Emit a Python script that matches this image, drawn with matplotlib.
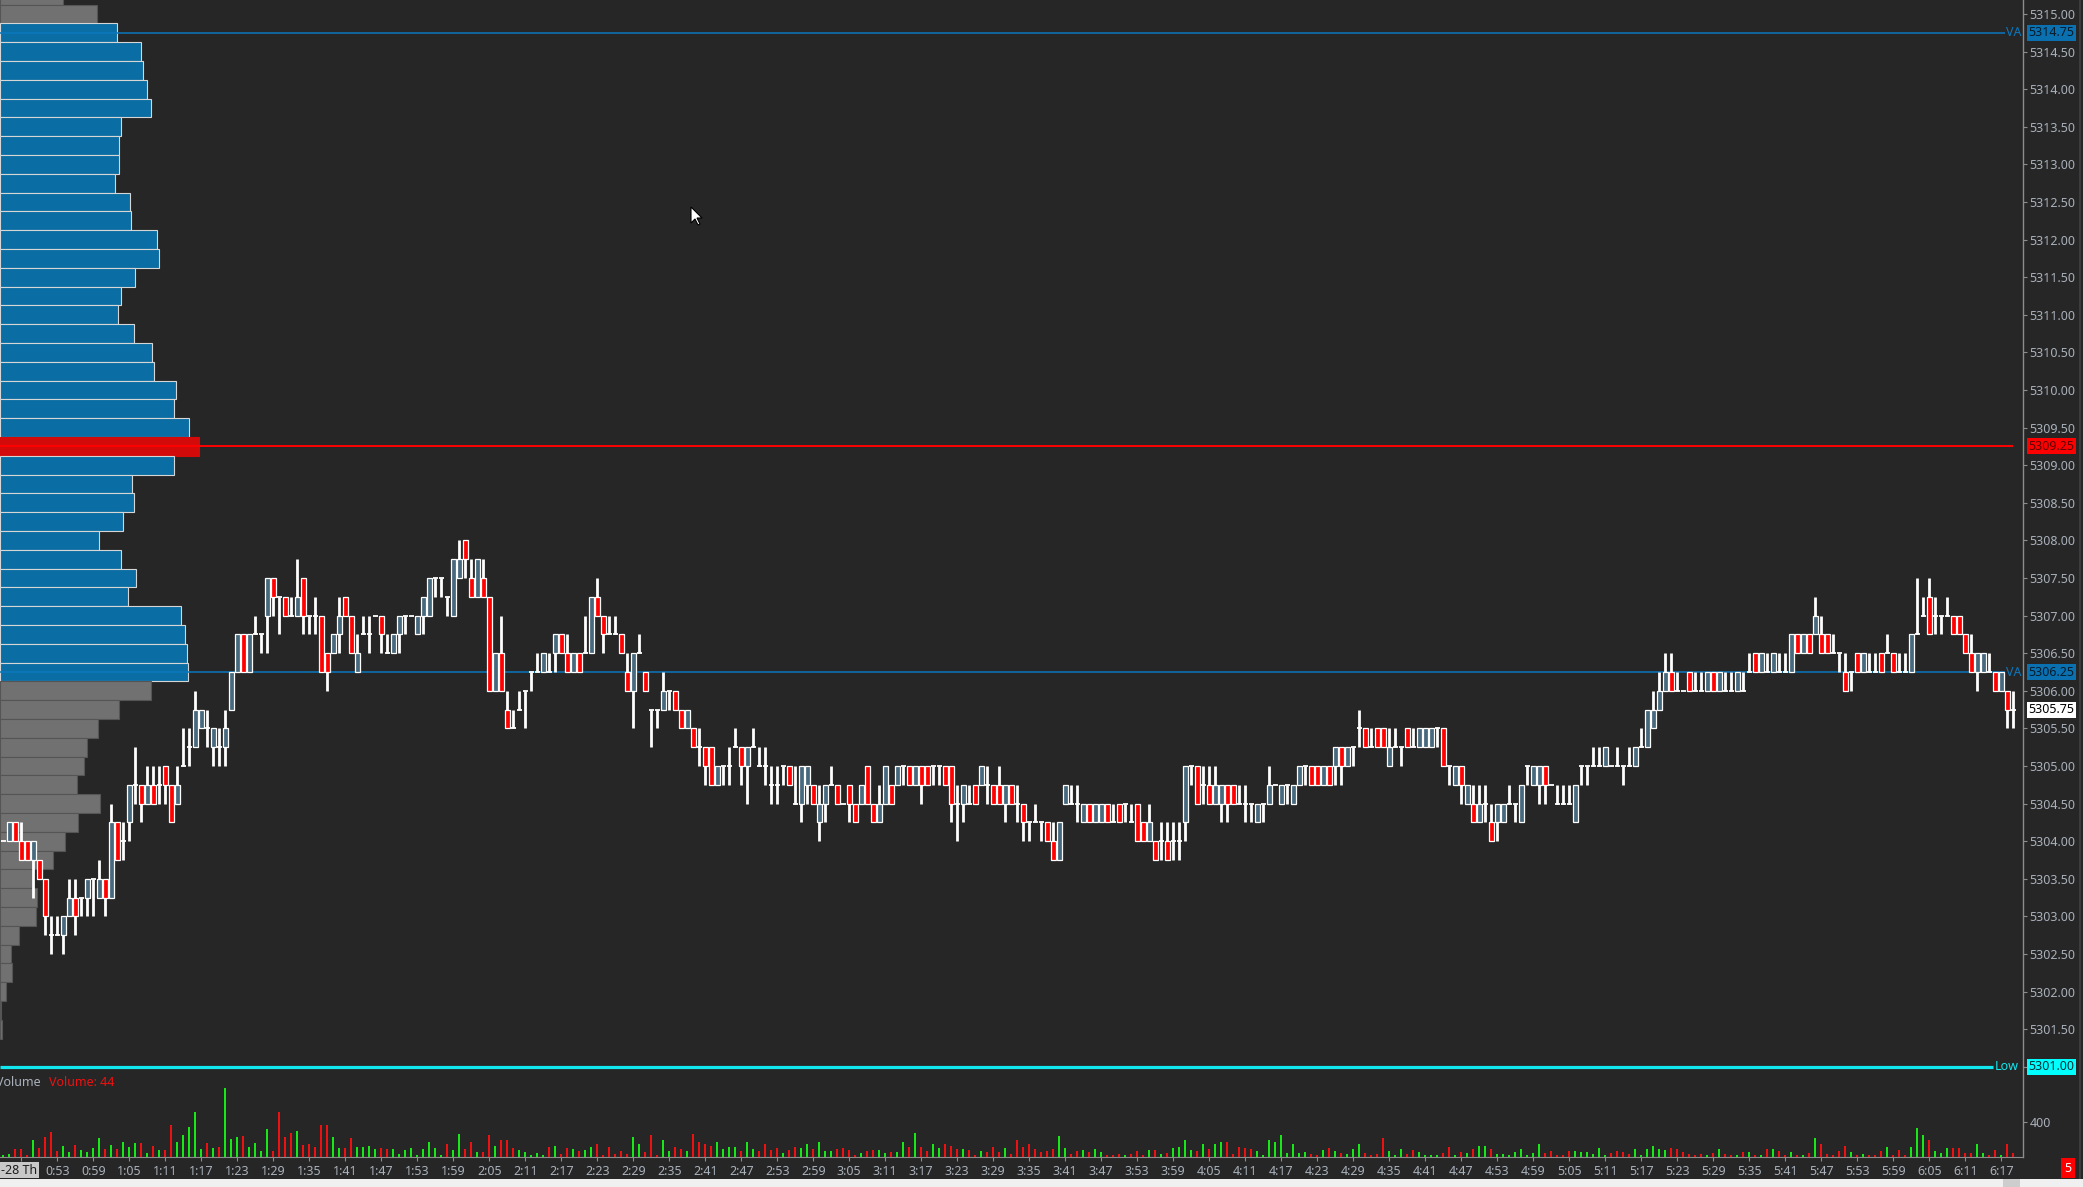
import numpy as np
import matplotlib
matplotlib.use('Agg')
import matplotlib.pyplot as plt
from matplotlib import transforms
from matplotlib.patches import Rectangle, Polygon
from matplotlib.ticker import FormatStrFormatter

plt.rcParams['font.family'] = ['Noto Sans', 'DejaVu Sans']

# ---------------- data (1-minute bars, first bar 0:44) ----------------
start_minute = 44
date_label = '-28 Th'

opens = [
    5304.0, 5304.0, 5304.25, 5304.0, 5304.0, 5303.75, 5303.75, 5303.5, 5302.75, 5302.75, 5302.75, 5303.0,
    5303.25, 5303.25, 5303.25, 5303.5, 5303.25, 5303.5, 5303.25, 5304.25, 5304.0, 5304.25, 5304.75, 5304.75,
    5304.5, 5304.75, 5304.75, 5305.0, 5304.75, 5304.5, 5305.0, 5305.25, 5305.25, 5305.5, 5305.5, 5305.25,
    5305.25, 5305.25, 5305.75, 5306.25, 5306.75, 5306.25, 5306.75, 5306.75, 5307.0, 5307.5, 5307.25, 5307.25,
    5307.0, 5307.0, 5307.5, 5307.0, 5307.0, 5307.0, 5306.5, 5306.5, 5306.75, 5307.25, 5307.0, 5306.25,
    5306.75, 5306.75, 5307.0, 5307.0, 5306.5, 5306.5, 5306.75, 5307.0, 5307.0, 5306.75, 5307.0, 5307.0,
    5307.5, 5307.5, 5307.25, 5307.0, 5307.5, 5308.0, 5307.5, 5307.25, 5307.5, 5307.25, 5306.0, 5306.5,
    5305.75, 5305.5, 5305.75, 5306.0, 5306.25, 5306.25, 5306.25, 5306.25, 5306.5, 5306.75, 5306.5, 5306.25,
    5306.5, 5306.5, 5306.5, 5307.25, 5307.0, 5306.75, 5306.75, 5306.75, 5306.25, 5306.0, 5306.5, 5306.25,
    5305.75, 5305.75, 5305.75, 5306.0, 5306.0, 5305.75, 5305.5, 5305.5, 5305.25, 5305.25, 5305.25, 5304.75,
    5305.0, 5305.0, 5305.25, 5305.25, 5305.0, 5305.25, 5305.0, 5305.0, 5304.75, 5304.75, 5305.0, 5305.0,
    5304.5, 5304.5, 5304.75, 5304.75, 5304.25, 5304.5, 5304.75, 5304.75, 5304.5, 5304.75, 5304.5, 5304.5,
    5305.0, 5304.5, 5304.25, 5304.5, 5304.75, 5304.75, 5305.0, 5305.0, 5304.75, 5305.0, 5305.0, 5305.0,
    5305.0, 5305.0, 5305.0, 5304.5, 5304.5, 5304.5, 5304.75, 5304.75, 5304.75, 5304.75, 5304.75, 5304.5,
    5304.75, 5304.5, 5304.5, 5304.25, 5304.25, 5304.25, 5304.25, 5304.0, 5303.75, 5304.5, 5304.5, 5304.5,
    5304.25, 5304.5, 5304.25, 5304.25, 5304.5, 5304.25, 5304.5, 5304.5, 5304.25, 5304.5, 5304.25, 5304.0,
    5304.0, 5304.0, 5304.0, 5304.0, 5304.0, 5304.25, 5305.0, 5305.0, 5304.75, 5304.75, 5304.5, 5304.5,
    5304.75, 5304.75, 5304.5, 5304.5, 5304.5, 5304.25, 5304.5, 5304.5, 5304.75, 5304.5, 5304.75, 5304.5,
    5304.75, 5305.0, 5305.0, 5305.0, 5304.75, 5305.0, 5305.0, 5305.25, 5305.0, 5305.25, 5305.5, 5305.5,
    5305.25, 5305.5, 5305.5, 5305.0, 5305.25, 5305.25, 5305.5, 5305.25, 5305.25, 5305.25, 5305.25, 5305.5,
    5305.5, 5305.0, 5304.75, 5305.0, 5304.5, 5304.5, 5304.25, 5304.5, 5304.25, 5304.25, 5304.25, 5304.5,
    5304.5, 5304.25, 5305.0, 5304.75, 5304.75, 5305.0, 5304.75, 5304.5, 5304.5, 5304.5, 5304.25, 5305.0,
    5305.0, 5305.0, 5305.0, 5305.0, 5305.0, 5305.0, 5305.0, 5305.0, 5305.0, 5305.25, 5305.25, 5305.5,
    5305.75, 5306.0, 5306.25, 5306.0, 5306.0, 5306.25, 5306.0, 5306.0, 5306.0, 5306.25, 5306.0, 5306.0,
    5306.0, 5306.0, 5306.0, 5306.25, 5306.5, 5306.25, 5306.25, 5306.25, 5306.25, 5306.25, 5306.25, 5306.75,
    5306.5, 5306.75, 5306.75, 5306.75, 5306.75, 5306.5, 5306.5, 5306.25, 5306.25, 5306.5, 5306.25, 5306.25,
    5306.25, 5306.5, 5306.5, 5306.5, 5306.25, 5306.25, 5306.25, 5306.75, 5307.0, 5307.25, 5307.0, 5307.0,
    5307.0, 5307.0, 5307.0, 5306.75, 5306.5, 5306.25, 5306.25, 5306.25, 5306.25, 5306.0, 5306.0, 5305.75,
]
highs = [
    5304.0, 5304.25, 5304.25, 5304.25, 5304.0, 5304.0, 5303.75, 5303.5, 5303.0, 5303.0, 5303.0, 5303.5,
    5303.5, 5303.25, 5303.5, 5303.5, 5303.75, 5303.5, 5304.5, 5304.25, 5304.25, 5304.75, 5305.25, 5304.75,
    5305.0, 5305.0, 5305.0, 5305.0, 5304.75, 5305.0, 5305.5, 5305.5, 5306.0, 5305.75, 5305.75, 5305.5,
    5305.5, 5305.75, 5306.25, 5306.75, 5306.75, 5306.75, 5307.0, 5306.75, 5307.5, 5307.5, 5307.25, 5307.25,
    5307.25, 5307.75, 5307.5, 5307.0, 5307.25, 5307.0, 5306.5, 5306.75, 5307.25, 5307.25, 5307.0, 5306.75,
    5307.0, 5307.0, 5307.0, 5307.0, 5306.75, 5306.75, 5307.0, 5307.0, 5307.0, 5307.0, 5307.25, 5307.5,
    5307.5, 5307.5, 5307.25, 5307.75, 5308.0, 5308.0, 5307.75, 5307.75, 5307.75, 5307.25, 5306.5, 5307.0,
    5306.0, 5305.75, 5306.0, 5306.0, 5306.25, 5306.5, 5306.5, 5306.5, 5306.75, 5306.75, 5306.75, 5306.5,
    5306.5, 5307.0, 5307.25, 5307.5, 5307.0, 5307.0, 5307.0, 5306.75, 5306.5, 5306.5, 5306.75, 5306.25,
    5305.75, 5305.75, 5306.25, 5306.0, 5306.0, 5305.75, 5305.75, 5305.5, 5305.5, 5305.25, 5305.25, 5305.0,
    5305.0, 5305.25, 5305.5, 5305.25, 5305.25, 5305.5, 5305.25, 5305.25, 5305.0, 5305.0, 5305.0, 5305.0,
    5305.0, 5305.0, 5305.0, 5304.75, 5304.75, 5304.75, 5305.0, 5304.75, 5304.5, 5304.75, 5304.5, 5304.75,
    5305.0, 5304.5, 5304.75, 5305.0, 5304.75, 5305.0, 5305.0, 5305.0, 5305.0, 5305.0, 5305.0, 5305.0,
    5305.0, 5305.0, 5305.0, 5304.75, 5304.75, 5304.75, 5304.75, 5305.0, 5305.0, 5304.75, 5305.0, 5304.75,
    5304.75, 5304.75, 5304.5, 5304.25, 5304.5, 5304.25, 5304.25, 5304.25, 5304.25, 5304.75, 5304.75, 5304.75,
    5304.5, 5304.5, 5304.5, 5304.5, 5304.5, 5304.5, 5304.5, 5304.5, 5304.5, 5304.5, 5304.25, 5304.5,
    5304.0, 5304.25, 5304.25, 5304.25, 5304.25, 5305.0, 5305.0, 5305.0, 5305.0, 5305.0, 5305.0, 5304.75,
    5304.75, 5304.75, 5304.75, 5304.75, 5304.5, 5304.5, 5304.5, 5305.0, 5304.75, 5304.75, 5304.75, 5304.75,
    5305.0, 5305.0, 5305.0, 5305.0, 5305.0, 5305.0, 5305.25, 5305.25, 5305.25, 5305.25, 5305.75, 5305.5,
    5305.5, 5305.5, 5305.5, 5305.5, 5305.5, 5305.25, 5305.5, 5305.5, 5305.5, 5305.5, 5305.5, 5305.5,
    5305.5, 5305.0, 5305.0, 5305.0, 5304.75, 5304.75, 5304.75, 5304.75, 5304.5, 5304.5, 5304.5, 5304.75,
    5304.5, 5304.75, 5305.0, 5305.0, 5305.0, 5305.0, 5304.75, 5304.75, 5304.75, 5304.75, 5304.75, 5305.0,
    5305.0, 5305.25, 5305.25, 5305.25, 5305.0, 5305.25, 5305.0, 5305.25, 5305.25, 5305.5, 5305.75, 5306.0,
    5306.25, 5306.5, 5306.5, 5306.25, 5306.0, 5306.25, 5306.25, 5306.25, 5306.25, 5306.25, 5306.25, 5306.25,
    5306.25, 5306.25, 5306.25, 5306.5, 5306.5, 5306.5, 5306.5, 5306.5, 5306.5, 5306.5, 5306.75, 5306.75,
    5306.75, 5306.75, 5307.25, 5307.0, 5306.75, 5306.75, 5306.5, 5306.5, 5306.25, 5306.5, 5306.5, 5306.5,
    5306.5, 5306.5, 5306.75, 5306.5, 5306.5, 5306.5, 5306.75, 5307.5, 5307.25, 5307.5, 5307.25, 5307.0,
    5307.25, 5307.0, 5307.0, 5306.75, 5306.75, 5306.5, 5306.5, 5306.5, 5306.25, 5306.25, 5306.0, 5306.0,
]
lows = [
    5304.0, 5304.0, 5304.0, 5303.75, 5303.75, 5303.25, 5303.5, 5302.75, 5302.5, 5302.75, 5302.5, 5303.0,
    5302.75, 5303.0, 5303.0, 5303.0, 5303.25, 5303.0, 5303.25, 5303.75, 5303.75, 5304.0, 5304.5, 5304.25,
    5304.5, 5304.5, 5304.5, 5304.5, 5304.25, 5304.5, 5305.0, 5305.0, 5305.25, 5305.5, 5305.25, 5305.0,
    5305.0, 5305.0, 5305.75, 5306.25, 5306.25, 5306.25, 5306.75, 5306.5, 5306.5, 5307.0, 5306.75, 5307.0,
    5307.0, 5307.0, 5306.75, 5306.75, 5306.75, 5306.25, 5306.0, 5306.5, 5306.5, 5307.0, 5306.5, 5306.25,
    5306.75, 5306.5, 5307.0, 5306.5, 5306.5, 5306.5, 5306.5, 5306.75, 5307.0, 5306.75, 5306.75, 5307.0,
    5307.25, 5307.25, 5307.0, 5307.0, 5307.5, 5307.5, 5307.25, 5307.25, 5307.25, 5306.0, 5306.0, 5306.0,
    5305.5, 5305.5, 5305.75, 5305.5, 5306.0, 5306.25, 5306.25, 5306.25, 5306.25, 5306.5, 5306.25, 5306.25,
    5306.25, 5306.5, 5306.5, 5307.0, 5306.5, 5306.75, 5306.75, 5306.5, 5306.0, 5305.5, 5306.5, 5306.0,
    5305.25, 5305.5, 5305.75, 5305.75, 5305.75, 5305.5, 5305.5, 5305.25, 5305.0, 5304.75, 5304.75, 5304.75,
    5304.75, 5304.75, 5305.25, 5304.75, 5304.5, 5305.25, 5305.0, 5304.75, 5304.5, 5304.5, 5304.75, 5304.75,
    5304.5, 5304.25, 5304.5, 5304.5, 5304.0, 5304.25, 5304.75, 5304.5, 5304.5, 5304.25, 5304.25, 5304.5,
    5304.5, 5304.25, 5304.25, 5304.5, 5304.5, 5304.75, 5304.75, 5304.75, 5304.75, 5304.5, 5304.75, 5304.75,
    5304.75, 5304.75, 5304.25, 5304.0, 5304.25, 5304.5, 5304.5, 5304.75, 5304.5, 5304.5, 5304.5, 5304.25,
    5304.5, 5304.25, 5304.0, 5304.0, 5304.25, 5304.0, 5304.0, 5303.75, 5303.75, 5304.5, 5304.5, 5304.25,
    5304.25, 5304.25, 5304.25, 5304.25, 5304.25, 5304.25, 5304.25, 5304.25, 5304.25, 5304.0, 5304.0, 5304.0,
    5303.75, 5303.75, 5303.75, 5303.75, 5303.75, 5304.0, 5304.75, 5304.5, 5304.5, 5304.5, 5304.5, 5304.25,
    5304.25, 5304.5, 5304.5, 5304.25, 5304.25, 5304.25, 5304.25, 5304.5, 5304.75, 5304.5, 5304.5, 5304.5,
    5304.75, 5304.75, 5304.75, 5304.75, 5304.75, 5304.75, 5304.75, 5304.75, 5305.0, 5305.0, 5305.25, 5305.25,
    5305.25, 5305.25, 5305.25, 5305.0, 5305.25, 5305.0, 5305.25, 5305.25, 5305.25, 5305.25, 5305.25, 5305.25,
    5305.0, 5304.75, 5304.75, 5304.5, 5304.5, 5304.25, 5304.25, 5304.25, 5304.0, 5304.0, 5304.25, 5304.5,
    5304.25, 5304.25, 5304.75, 5304.75, 5304.5, 5304.5, 5304.75, 5304.5, 5304.5, 5304.5, 5304.25, 5304.75,
    5304.75, 5305.0, 5305.0, 5305.0, 5305.0, 5305.0, 5304.75, 5305.0, 5305.0, 5305.25, 5305.25, 5305.5,
    5305.75, 5306.0, 5306.0, 5306.0, 5306.0, 5306.0, 5306.0, 5306.0, 5306.0, 5306.0, 5306.0, 5306.0,
    5306.0, 5306.0, 5306.0, 5306.25, 5306.25, 5306.25, 5306.25, 5306.25, 5306.25, 5306.25, 5306.25, 5306.5,
    5306.5, 5306.5, 5306.75, 5306.5, 5306.5, 5306.5, 5306.25, 5306.0, 5306.0, 5306.25, 5306.25, 5306.25,
    5306.25, 5306.25, 5306.5, 5306.25, 5306.25, 5306.25, 5306.25, 5306.75, 5307.0, 5306.75, 5306.75, 5306.75,
    5307.0, 5306.75, 5306.75, 5306.5, 5306.25, 5306.0, 5306.25, 5306.25, 5306.0, 5306.0, 5305.5, 5305.5,
]
closes = [
    5304.0, 5304.25, 5304.0, 5303.75, 5303.75, 5304.0, 5303.5, 5303.0, 5302.75, 5302.75, 5303.0, 5303.25,
    5303.0, 5303.25, 5303.5, 5303.5, 5303.5, 5303.25, 5304.25, 5303.75, 5304.0, 5304.75, 5304.75, 5304.5,
    5304.75, 5304.5, 5304.75, 5304.75, 5304.25, 5304.75, 5305.0, 5305.25, 5305.75, 5305.75, 5305.5, 5305.5,
    5305.25, 5305.5, 5306.25, 5306.75, 5306.25, 5306.75, 5306.75, 5306.75, 5307.5, 5307.25, 5307.25, 5307.0,
    5307.0, 5307.25, 5307.0, 5307.0, 5307.0, 5306.25, 5306.25, 5306.75, 5307.0, 5307.0, 5306.5, 5306.5,
    5306.75, 5306.75, 5307.0, 5306.75, 5306.5, 5306.75, 5307.0, 5307.0, 5307.0, 5307.0, 5307.25, 5307.5,
    5307.5, 5307.5, 5307.25, 5307.75, 5307.75, 5307.75, 5307.25, 5307.75, 5307.25, 5306.0, 5306.5, 5306.0,
    5305.5, 5305.5, 5305.75, 5306.0, 5306.25, 5306.25, 5306.5, 5306.25, 5306.75, 5306.5, 5306.25, 5306.5,
    5306.25, 5306.5, 5307.25, 5307.0, 5306.75, 5306.75, 5306.75, 5306.5, 5306.0, 5306.5, 5306.5, 5306.0,
    5305.75, 5305.75, 5306.0, 5306.0, 5305.75, 5305.5, 5305.75, 5305.25, 5305.25, 5305.0, 5304.75, 5305.0,
    5305.0, 5305.0, 5305.25, 5305.0, 5305.25, 5305.25, 5305.0, 5305.0, 5304.75, 5304.75, 5305.0, 5304.75,
    5304.5, 5305.0, 5305.0, 5304.5, 5304.5, 5304.75, 5304.75, 5304.5, 5304.5, 5304.5, 5304.25, 5304.75,
    5304.5, 5304.25, 5304.5, 5305.0, 5304.5, 5305.0, 5305.0, 5304.75, 5305.0, 5304.75, 5304.75, 5305.0,
    5305.0, 5304.75, 5304.5, 5304.5, 5304.75, 5304.5, 5304.5, 5305.0, 5304.75, 5304.5, 5304.5, 5304.75,
    5304.5, 5304.5, 5304.25, 5304.25, 5304.25, 5304.25, 5304.0, 5303.75, 5304.25, 5304.75, 5304.5, 5304.5,
    5304.5, 5304.25, 5304.5, 5304.5, 5304.25, 5304.25, 5304.25, 5304.5, 5304.25, 5304.0, 5304.0, 5304.25,
    5303.75, 5304.0, 5303.75, 5304.0, 5304.0, 5305.0, 5305.0, 5304.5, 5304.75, 5304.5, 5304.75, 5304.75,
    5304.5, 5304.5, 5304.5, 5304.5, 5304.5, 5304.5, 5304.5, 5304.75, 5304.75, 5304.75, 5304.75, 5304.75,
    5305.0, 5305.0, 5304.75, 5304.75, 5305.0, 5304.75, 5305.25, 5305.0, 5305.25, 5305.25, 5305.5, 5305.25,
    5305.25, 5305.25, 5305.25, 5305.25, 5305.25, 5305.25, 5305.25, 5305.25, 5305.5, 5305.5, 5305.5, 5305.5,
    5305.0, 5305.0, 5305.0, 5304.75, 5304.75, 5304.25, 5304.5, 5304.5, 5304.0, 5304.5, 5304.5, 5304.5,
    5304.5, 5304.75, 5305.0, 5305.0, 5305.0, 5304.75, 5304.75, 5304.5, 5304.5, 5304.5, 5304.75, 5305.0,
    5305.0, 5305.0, 5305.0, 5305.25, 5305.0, 5305.0, 5305.0, 5305.0, 5305.25, 5305.25, 5305.75, 5305.75,
    5306.0, 5306.25, 5306.0, 5306.0, 5306.0, 5306.0, 5306.0, 5306.0, 5306.25, 5306.0, 5306.25, 5306.0,
    5306.0, 5306.25, 5306.0, 5306.25, 5306.25, 5306.5, 5306.25, 5306.5, 5306.25, 5306.25, 5306.75, 5306.5,
    5306.75, 5306.5, 5307.0, 5306.5, 5306.5, 5306.5, 5306.5, 5306.0, 5306.25, 5306.25, 5306.5, 5306.25,
    5306.25, 5306.25, 5306.5, 5306.25, 5306.25, 5306.25, 5306.75, 5306.75, 5307.0, 5306.75, 5307.0, 5307.0,
    5307.0, 5306.75, 5306.75, 5306.5, 5306.25, 5306.5, 5306.5, 5306.25, 5306.0, 5306.25, 5305.75, 5305.75,
]
volumes = [
    28, 40, 92, 92, 28, 200, 108, 236, 284, 68, 128, 56,
    140, 80, 56, 104, 224, 92, 140, 92, 176, 116, 164, 164,
    44, 128, 80, 80, 368, 176, 260, 344, 524, 92, 164, 104,
    116, 800, 212, 236, 248, 116, 164, 68, 320, 68, 524, 236,
    272, 296, 140, 152, 116, 368, 368, 236, 104, 106, 217, 120,
    120, 130, 96, 106, 96, 96, 34, 82, 106, 24, 96, 178,
    106, 24, 145, 82, 265, 96, 169, 58, 58, 251, 130, 202,
    202, 106, 82, 58, 24, 48, 24, 120, 130, 34, 106, 96,
    72, 82, 120, 145, 24, 120, 34, 72, 34, 227, 154, 58,
    251, 24, 193, 72, 120, 96, 72, 265, 178, 154, 130, 169,
    96, 120, 120, 72, 169, 96, 72, 145, 82, 106, 48, 82,
    120, 106, 154, 96, 178, 72, 72, 96, 106, 82, 24, 48,
    72, 82, 82, 48, 58, 58, 169, 120, 275, 120, 72, 145,
    106, 154, 130, 96, 96, 82, 24, 72, 58, 120, 58, 106,
    34, 202, 120, 154, 96, 58, 72, 96, 241, 106, 34, 72,
    82, 58, 96, 58, 24, 24, 34, 24, 34, 72, 24, 82,
    82, 34, 48, 106, 120, 193, 82, 72, 154, 96, 154, 178,
    169, 34, 120, 106, 96, 72, 24, 202, 178, 251, 48, 154,
    48, 58, 34, 24, 82, 106, 72, 48, 34, 96, 145, 48,
    24, 34, 217, 72, 24, 96, 34, 82, 58, 24, 24, 24,
    48, 120, 24, 58, 48, 96, 130, 130, 96, 34, 34, 24,
    58, 96, 24, 48, 154, 48, 72, 24, 24, 72, 72, 58,
    58, 34, 106, 24, 48, 72, 58, 34, 96, 24, 96, 130,
    96, 82, 106, 96, 58, 34, 24, 34, 24, 48, 96, 34,
    24, 24, 58, 58, 24, 24, 96, 96, 72, 24, 58, 24,
    24, 48, 217, 154, 34, 24, 72, 130, 58, 24, 34, 24,
    24, 72, 120, 24, 82, 24, 120, 337, 251, 202, 72, 48,
    106, 106, 106, 48, 48, 145, 48, 24, 82, 24, 145, 44,
]

# volume profile, one row per 0.25 from 5315.25 down to 5301.50
profile_top = 5315.25
profile_volume = [
    63, 97, 117, 141, 143, 147, 151, 121, 119, 119, 115, 130,
    131, 157, 159, 135, 121, 118, 134, 152, 154, 176, 174, 189,
    199, 174, 132, 134, 123, 99, 121, 136, 128, 181, 185, 187,
    188, 151, 119, 98, 87, 84, 77, 100, 78, 65, 53, 32,
    37, 36, 19, 11, 12, 6, 1, 2,
]
va_high = 5314.75
va_low = 5306.25
poc = 5309.25
session_low = 5301.00

# ---------------- layout (pixels of the 2083x1187 picture) ----------------
W, H = 2083, 1187
PLOT_R = 2023          # x of the price scale line
PRICE_BOTTOM = 1075
VOL_TOP, VOL_BASE = 1076, 1157
PX_BAR = 6.0           # one bar every 6 px
X_FIRST = 3.3          # centre of first bar
PX_POINT = 75.2        # pixels per 1.00 of price
Y_5315 = 14.0
VOL_PX_400 = 34.6
PROFILE_MAX_PX = 199

BG = '#262626'
AXIS_C = '#8c8c8c'
LABEL_C = '#a9b1bb'
VA_C = '#0b78be'
SLATE = '#47697e'
RED = '#ff0000'

def px2x(px):
    return (px - X_FIRST) / PX_BAR

o, h, l, c = (np.array(a, float) for a in (opens, highs, lows, closes))
h = np.maximum(h, np.maximum(o, c))
l = np.minimum(l, np.minimum(o, c))
n = len(c)
x = np.arange(n)
vol = np.array(volumes[:n], float)

fig = plt.figure(figsize=(W / 100, H / 100), dpi=100, facecolor=BG)
ax = fig.add_axes([0, 1 - PRICE_BOTTOM / H, PLOT_R / W, PRICE_BOTTOM / H])
axv = fig.add_axes([0, 1 - VOL_BASE / H, PLOT_R / W, (VOL_BASE - VOL_TOP) / H], sharex=ax)

for a in (ax, axv):
    a.set_facecolor(BG)
    for s in ('top', 'left', 'bottom'):
        a.spines[s].set_visible(False)
    a.spines['right'].set_color(AXIS_C)
    a.spines['right'].set_linewidth(1.0)
    a.yaxis.tick_right()
    a.tick_params(axis='y', direction='out', length=3, width=0.8, color=AXIS_C,
                  labelcolor=LABEL_C, labelsize=9, pad=1.5)

xmin, xmax = px2x(0), px2x(PLOT_R)
ax.set_xlim(xmin, xmax)
ax.set_ylim(5315 - (PRICE_BOTTOM - Y_5315) / PX_POINT, 5315 + Y_5315 / PX_POINT)
ax.tick_params(axis='x', bottom=False, labelbottom=False)
ax.set_yticks(np.arange(5301.0, 5315.01, 0.5))
ax.yaxis.set_major_formatter(FormatStrFormatter('%.2f'))

# ---- volume profile on the left ----
pv = np.array(profile_volume, float)
levels = profile_top - 0.25 * np.arange(len(pv))
pw = pv / pv.max() * PROFILE_MAX_PX / PX_BAR
fcs, ecs = [], []
for p in levels:
    if abs(p - poc) < 1e-9:
        fcs.append('#d30a0a'); ecs.append('#d30a0a')
    elif va_low - 1e-9 <= p <= va_high + 1e-9:
        fcs.append('#0a6da3'); ecs.append('#d6d6d6')
    else:
        fcs.append('#717171'); ecs.append('#555555')
ax.barh(levels, pw, left=xmin, height=0.25, color=fcs, edgecolor=ecs, linewidth=0.8, zorder=1)

# ---- reference lines ----
ax.hlines([va_high, va_low], xmin, px2x(2005), color=VA_C, linewidth=1.1, zorder=2)
ax.hlines(poc, xmin, px2x(2013), color=RED, linewidth=1.4, zorder=2)
ax.hlines(session_low, xmin, px2x(1993), color='#12e6ee', linewidth=2.3, zorder=2)
for p in (va_high, va_low):
    ax.text(px2x(2006), p, 'VA', color=VA_C, fontsize=9, ha='left', va='center', zorder=5)
ax.text(px2x(1995), session_low, 'Low', color='#12e6ee', fontsize=9, ha='left', va='center', zorder=5)

# ---- candles ----
ax.vlines(x, l, h, color='white', linewidth=2.0, zorder=3)
doji = o == c
ax.hlines(o[doji], x[doji] - 0.42, x[doji] + 0.42, color='white', linewidth=1.3, zorder=3)
body = ~doji
body_col = np.where(c > o, SLATE, RED)
ax.bar(x[body], np.abs(c - o)[body], bottom=np.minimum(o, c)[body], width=0.78,
       color=body_col[body], edgecolor='white', linewidth=0.9, zorder=4)

# ---- price boxes on the scale ----
box_tr = transforms.offset_copy(ax.get_yaxis_transform(), fig=fig, x=5, y=0, units='dots')
boxes = [
    (va_high, '#0b70b0', '#071c2c'),
    (poc, '#ff0000', '#5c0000'),
    (va_low, '#0b70b0', '#071c2c'),
    (c[-1], '#ffffff', '#000000'),
    (session_low, '#00ffff', '#063038'),
]
for p, bg, fg in boxes:
    ax.text(1.0, p, f'{p:.2f}', transform=box_tr, ha='left', va='center', fontsize=9,
            color=fg, clip_on=False, zorder=6,
            bbox=dict(boxstyle='square,pad=0.12', fc=bg, ec='none'))

# ---- volume panel ----
vol_up = []
prev = True
for i in range(n):
    if c[i] > o[i]:
        up = True
    elif c[i] < o[i]:
        up = False
    elif i > 0 and c[i] != c[i - 1]:
        up = c[i] > c[i - 1]
    else:
        up = prev
    vol_up.append(up)
    prev = up
vol_col = ['#18e818' if u else '#ee1111' for u in vol_up]
axv.bar(x, vol, width=0.3, color=vol_col, zorder=2)
axv.set_ylim(0, (VOL_BASE - VOL_TOP) / VOL_PX_400 * 400)
axv.set_yticks([400])
axv.spines['bottom'].set_visible(True)
axv.spines['bottom'].set_color(AXIS_C)

minutes = start_minute + x
tick_idx = [i for i in range(n) if minutes[i] % 6 == 5]
tick_lab = [f'{m // 60}:{m % 60:02d}' for m in minutes[tick_idx]]
tick_lab[0] = ''
axv.set_xticks(tick_idx)
axv.set_xticklabels(tick_lab)
axv.tick_params(axis='x', direction='out', length=3, width=0.8, color=AXIS_C,
                labelcolor=LABEL_C, labelsize=9, pad=3)

fig.text(1 / W, 1 - 1170 / H, date_label, color='#1e1e1e', fontsize=9, ha='left', va='center',
         bbox=dict(boxstyle='square,pad=0.15', fc='#c8c8c8', ec='none'))
fig.text(-4 / W, 1 - 1083 / H, 'Volume', color=LABEL_C, fontsize=9, ha='left', va='center')
fig.text(49 / W, 1 - 1083 / H, f'Volume: {volumes[n - 1]}', color='#ee1111', fontsize=9,
         ha='left', va='center')

# ---- window chrome: scroll bar, right border, counter box, mouse pointer ----
fig.patches.append(Rectangle((0, 0), 1, 8 / H, transform=fig.transFigure, fc='#f0f0f0', ec='none'))
fig.patches.append(Rectangle((2003 / W, 0), 17 / W, 8 / H, transform=fig.transFigure,
                             fc='#cdcdcd', ec='none'))
fig.patches.append(Rectangle((2079 / W, 8 / H), 1.5 / W, 1 - 8 / H, transform=fig.transFigure,
                             fc='#3c3c3c', ec='none'))
fig.text(2068 / W, 1 - 1168 / H, '5', color='white', fontsize=9, ha='center', va='center',
         bbox=dict(boxstyle='square,pad=0.25', fc='#ff0000', ec='none'))

tip_x, tip_y = 691, 207
arrow = [(0, 0), (0, 16), (4, 12), (7, 18), (9, 17), (6, 11), (11, 11)]
fig.patches.append(Polygon([((tip_x + dx) / W, 1 - (tip_y + dy) / H) for dx, dy in arrow],
                           closed=True, transform=fig.transFigure, fc='white', ec='black',
                           lw=0.8, zorder=10))

fig.savefig('out.png', dpi=100, facecolor=BG)
